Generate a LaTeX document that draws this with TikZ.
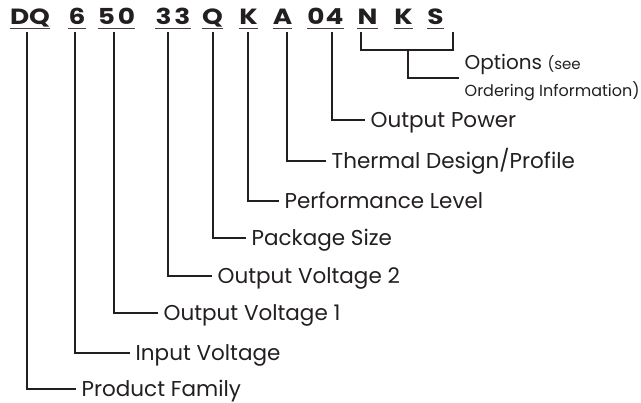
\documentclass[tikz,border=0pt]{standalone}
\usepackage{fontspec}
\setmainfont{Poppins}
\newfontfamily\codefont[FakeStretch=1.2]{Poppins}
\usetikzlibrary{calc}
\definecolor{ink}{HTML}{231F20}
\begin{document}
\begin{tikzpicture}[x=1pt,y=-1pt,
  code/.style={font=\codefont\fontsize{22}{22}\selectfont\bfseries, inner xsep=0pt, inner ysep=7pt,
    text depth=0pt, anchor=base, text=ink},
  lab/.style={font=\fontsize{21.5}{21.5}\selectfont, anchor=west, inner xsep=5.5pt, inner ysep=0pt,
    text height=15pt, text depth=0pt, text=ink},
  conn/.style={line width=2.6pt, draw=ink, line join=miter},
  uline/.style={line width=1.8pt, draw=ink!85}]
\useasboundingbox (0,0) rectangle (641,403);
% code characters
\node[code] (dq) at (30,25) {DQ};
\node[code] (six) at (77,25) {6};
\node[code] (fifty) at (116.5,25) {5\kern3pt0};
\node[code] (tt) at (173,25) {3\kern3pt3};
\node[code] (q) at (212.5,25) {Q};
\node[code] (k) at (248.5,25) {K};
\node[code] (a) at (282.5,25) {A};
\node[code] (ofour) at (325.5,25) {0\kern1pt4};
\node[code] (n) at (367.5,25) {N};
\node[code] (kk) at (403.5,25) {K};
\node[code] (s) at (435.5,25) {S};
\foreach \c in {dq,six,fifty,tt,q,k,a,ofour,n,kk,s}
  \draw[uline] ([yshift=-3.5pt]\c.base west) -- ([yshift=-3.5pt]\c.base east);
% labels
\node[lab] (pf) at (76,389) {Product Family};
\node[lab] (iv) at (130,353) {Input Voltage};
\node[lab] (ovone) at (158,313) {Output Voltage 1};
\node[lab] (ovtwo) at (212,276) {Output Voltage 2};
\node[lab] (ps) at (246,238) {Package Size};
\node[lab] (pl) at (279,201) {Performance Level};
\node[lab] (td) at (326,161) {Thermal Design/Profile};
\node[lab] (op) at (365,120) {Output Power};
\node[font=\fontsize{20}{27}\selectfont, anchor=base west, inner xsep=5.5pt, align=left, text=ink]
  (opt) at (459,97) {Options {\fontsize{15}{27}\selectfont (see}\\{\fontsize{16}{27}\selectfont Ordering Information)}};
% connectors
\draw[conn] ([xshift=-3pt]dq.south) |- (pf.west);
\draw[conn] ([xshift=-2pt]six.south) |- (iv.west);
\draw[conn] ([xshift=-2.5pt]fifty.south) |- (ovone.west);
\draw[conn] ([xshift=-5pt]tt.south) |- (ovtwo.west);
\draw[conn] ([xshift=0.5pt]q.south) |- (ps.west);
\draw[conn] ([xshift=-0.5pt]k.south) |- (pl.west);
\draw[conn] ([xshift=4.5pt]a.south) |- (td.west);
\draw[conn] ([xshift=6.5pt]ofour.south) |- (op.west);
\draw[conn] ([xshift=-6.5pt]n.south) -- ++(0,18) coordinate (bl) -| ([xshift=17.5pt]s.south);
\path ([xshift=4.5pt]kk.south) coordinate (kks);
\draw[conn] (kks |- bl) |- ([yshift=19pt]opt.base west);
\end{tikzpicture}
\end{document}
